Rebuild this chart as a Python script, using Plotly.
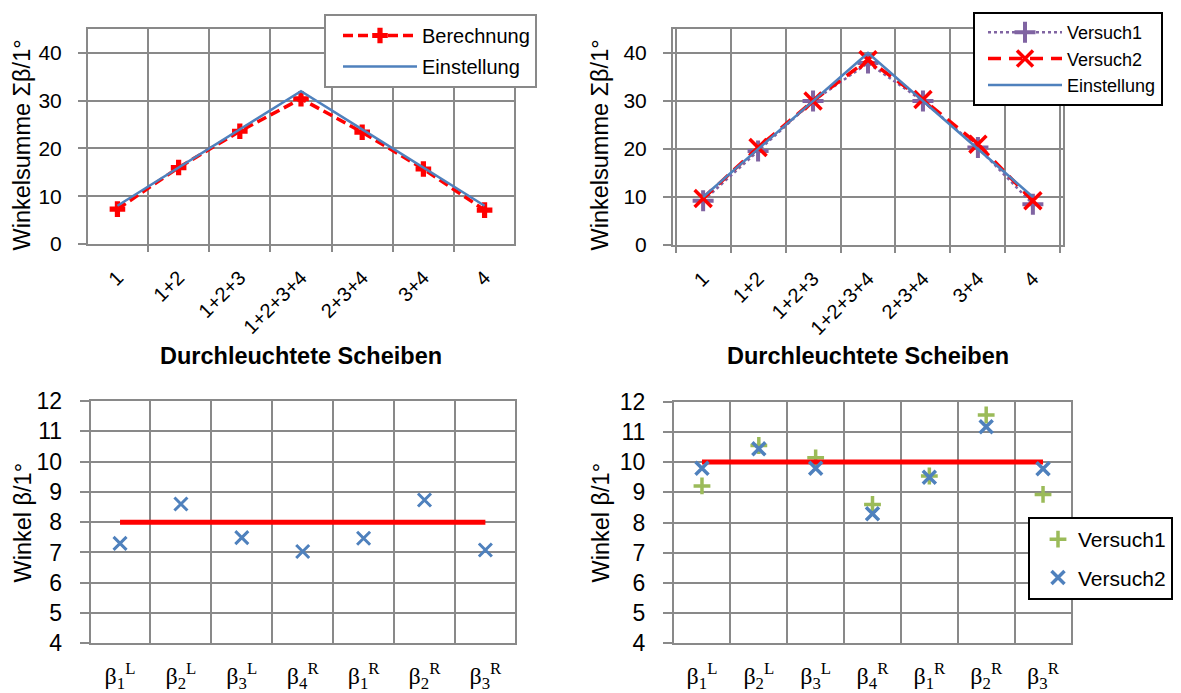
import plotly.graph_objects as go

# ---------------- data ----------------
scheiben = ["1", "1+2", "1+2+3", "1+2+3+4", "2+3+4", "3+4", "4"]

berechnung = [7.3, 16.0, 23.6, 30.4, 23.4, 15.7, 7.1]
einstellung_links = [8, 16, 24, 32, 24, 16, 8]

versuch1_summe = [9.2, 19.6, 30.0, 37.9, 30.0, 20.3, 8.5]
versuch2_summe = [9.7, 20.3, 30.0, 38.6, 30.3, 21.0, 9.2]
einstellung_rechts = [10, 20, 30, 40, 30, 20, 10]

winkel_labels = [
    "β<sub>1</sub><sup>L</sup>", "β<sub>2</sub><sup>L</sup>", "β<sub>3</sub><sup>L</sup>",
    "β<sub>4</sub><sup>R</sup>", "β<sub>1</sub><sup>R</sup>", "β<sub>2</sub><sup>R</sup>",
    "β<sub>3</sub><sup>R</sup>",
]
winkel_links = [7.30, 8.60, 7.49, 7.03, 7.47, 8.73, 7.08]
soll_links = [8, 8, 8, 8, 8, 8, 8]

winkel_v1 = [9.21, 10.55, 10.14, 8.60, 9.54, 11.56, 8.93]
winkel_v2 = [9.80, 10.44, 9.80, 8.29, 9.50, 11.17, 9.78]
soll_rechts = [10, 10, 10, 10, 10, 10, 10]

# ---------------- style ----------------
W, H = 1181, 693
OFF = 8  # page body margin of the generated html
GRID = "#898989"
BLUE = "#4F81BD"
RED = "#FF0000"
PURPLE = "#8064A2"
GREEN = "#9BBB59"
SANS = "Liberation Sans, Arial, sans-serif"
SERIF = "Liberation Serif, Times New Roman, serif"


def fx(x):
    return (x - OFF) / W


def fy(y):
    return 1 - (y - OFF) / H


def dom_x(a, b):
    return [fx(a), fx(b)]


def dom_y(top, bottom):
    return [fy(bottom), fy(top)]


fig = go.Figure()

# --- top left ---
fig.add_trace(go.Scatter(
    x=scheiben, y=berechnung, name="Berechnung", mode="lines+markers",
    line=dict(color=RED, width=3.5, dash="10px,5px"),
    marker=dict(symbol="cross", size=13, color=RED),
    xaxis="x", yaxis="y", legend="legend", legendgroup="b1"))
fig.add_trace(go.Scatter(
    x=scheiben, y=einstellung_links, name="Einstellung", mode="lines",
    line=dict(color=BLUE, width=2.5),
    xaxis="x", yaxis="y", legend="legend", legendgroup="e1"))

# --- top right ---
fig.add_trace(go.Scatter(
    x=scheiben, y=versuch1_summe, name="Versuch1", mode="lines+markers",
    line=dict(color=PURPLE, width=2.5, dash="3px,3px"),
    marker=dict(symbol="cross-thin", size=15, line=dict(color=PURPLE, width=4)),
    xaxis="x2", yaxis="y2", legend="legend2"))
fig.add_trace(go.Scatter(
    x=scheiben, y=versuch2_summe, name="Versuch2", mode="lines+markers",
    line=dict(color=RED, width=3.5, dash="13px,8px"),
    marker=dict(symbol="x-thin", size=17, line=dict(color=RED, width=3.5)),
    xaxis="x2", yaxis="y2", legend="legend2"))
fig.add_trace(go.Scatter(
    x=scheiben, y=einstellung_rechts, name="Einstellung", mode="lines",
    line=dict(color=BLUE, width=2.5),
    xaxis="x2", yaxis="y2", legend="legend2"))

# --- bottom left ---
fig.add_trace(go.Scatter(
    x=winkel_labels, y=soll_links, mode="lines", showlegend=False,
    line=dict(color=RED, width=5), xaxis="x3", yaxis="y3"))
fig.add_trace(go.Scatter(
    x=winkel_labels, y=winkel_links, mode="markers", showlegend=False,
    marker=dict(symbol="x-thin", size=13, line=dict(color=BLUE, width=3)),
    xaxis="x3", yaxis="y3"))

# --- bottom right ---
fig.add_trace(go.Scatter(
    x=winkel_labels, y=winkel_v1, name="Versuch1", mode="markers",
    marker=dict(symbol="cross-thin", size=12, line=dict(color=GREEN, width=3.5)),
    xaxis="x4", yaxis="y4", legend="legend3", legendgroup="a"))
fig.add_trace(go.Scatter(
    x=winkel_labels, y=soll_rechts, mode="lines", showlegend=False,
    line=dict(color=RED, width=5), xaxis="x4", yaxis="y4"))
fig.add_trace(go.Scatter(
    x=winkel_labels, y=winkel_v2, name="Versuch2", mode="markers",
    marker=dict(symbol="x-thin", size=13, line=dict(color=BLUE, width=3.5)),
    xaxis="x4", yaxis="y4", legend="legend3", legendgroup="b"))


def xcat(domain, anchor, font, angle, ticks, standoff):
    return dict(domain=domain, anchor=anchor, type="category", tickson="boundaries",
                showgrid=True, gridcolor=GRID, gridwidth=2,
                showline=True, linecolor=GRID, linewidth=2, mirror=True,
                ticks=ticks, ticklen=6, tickcolor=GRID, tickwidth=2,
                tickangle=angle, tickfont=font, ticklabelstandoff=standoff,
                zeroline=False, fixedrange=True, automargin=False)


def ynum(domain, anchor, rng, dtick, font, ticklen, standoff):
    return dict(domain=domain, anchor=anchor, range=rng, dtick=dtick, tick0=0,
                showgrid=True, gridcolor=GRID, gridwidth=2,
                showline=True, linecolor=GRID, linewidth=2, mirror=True,
                ticks="outside", ticklen=ticklen, tickcolor=GRID, tickwidth=2,
                tickfont=font, ticklabelstandoff=standoff,
                zeroline=False, fixedrange=True, automargin=False)


top_tick_font = dict(family=SANS, size=20, color="black")
top_y_font = dict(family=SANS, size=21, color="black")
bot_x_font = dict(family=SERIF, size=24, color="black")
bot_y_font = dict(family=SANS, size=23, color="black")

fig.update_layout(
    width=W, height=H,
    margin=dict(l=0, r=0, t=0, b=0, pad=0, autoexpand=False),
    paper_bgcolor="white", plot_bgcolor="white",
    xaxis=xcat(dom_x(88, 514), "y", top_tick_font, -45, "outside", 12),
    yaxis=ynum(dom_y(29, 244), "x", [0, 45], 10, top_y_font, 8, 12),
    xaxis2=xcat(dom_x(673, 1063), "y2", top_tick_font, -45, "outside", 12),
    yaxis2=ynum(dom_y(29, 245), "x2", [0, 45], 10, top_y_font, 8, 12),
    xaxis3=xcat(dom_x(90.7, 514.7), "y3", bot_x_font, 0, "", 10),
    yaxis3=ynum(dom_y(401, 643.3), "x3", [4, 12], 1, bot_y_font, 9, 13),
    xaxis4=xcat(dom_x(674, 1071), "y4", bot_x_font, 0, "", 10),
    yaxis4=ynum(dom_y(401.7, 643.3), "x4", [4, 12], 1, bot_y_font, 9, 13),
    legend=dict(x=fx(324), y=fy(14), xanchor="left", yanchor="top",
                bgcolor="white", bordercolor=GRID, borderwidth=2,
                font=dict(family=SANS, size=20, color="black"),
                indentation=12, itemwidth=74, tracegroupgap=2, traceorder="grouped"),
    legend2=dict(x=fx(973), y=fy(12), xanchor="left", yanchor="top",
                 bgcolor="white", bordercolor="black", borderwidth=2,
                 font=dict(family=SANS, size=18, color="black"),
                 indentation=8, itemwidth=74, traceorder="normal"),
    legend3=dict(x=fx(1028), y=fy(517), xanchor="left", yanchor="top",
                 bgcolor="white", bordercolor="black", borderwidth=2,
                 font=dict(family=SANS, size=21, color="black"),
                 indentation=8, tracegroupgap=8, traceorder="grouped"),
)

ann_font_title = dict(family=SANS, size=23.5, color="black")
annotations = [
    dict(text="Winkelsumme Σβ/1°", x=fx(22), y=fy(145.5), textangle=-90),
    dict(text="Winkelsumme Σβ/1°", x=fx(600), y=fy(145.5), textangle=-90),
    dict(text="Winkel β/1°", x=fx(22), y=fy(522.5), textangle=-90),
    dict(text="Winkel β/1°", x=fx(600), y=fy(522.5), textangle=-90),
    dict(text="<b>Durchleuchtete Scheiben</b>", x=fx(301), y=fy(356), textangle=0),
    dict(text="<b>Durchleuchtete Scheiben</b>", x=fx(868), y=fy(356), textangle=0),
]
for a in annotations:
    fig.add_annotation(xref="paper", yref="paper", xanchor="center", yanchor="middle",
                       showarrow=False, font=ann_font_title, **a)

fig.write_html("out.html")
